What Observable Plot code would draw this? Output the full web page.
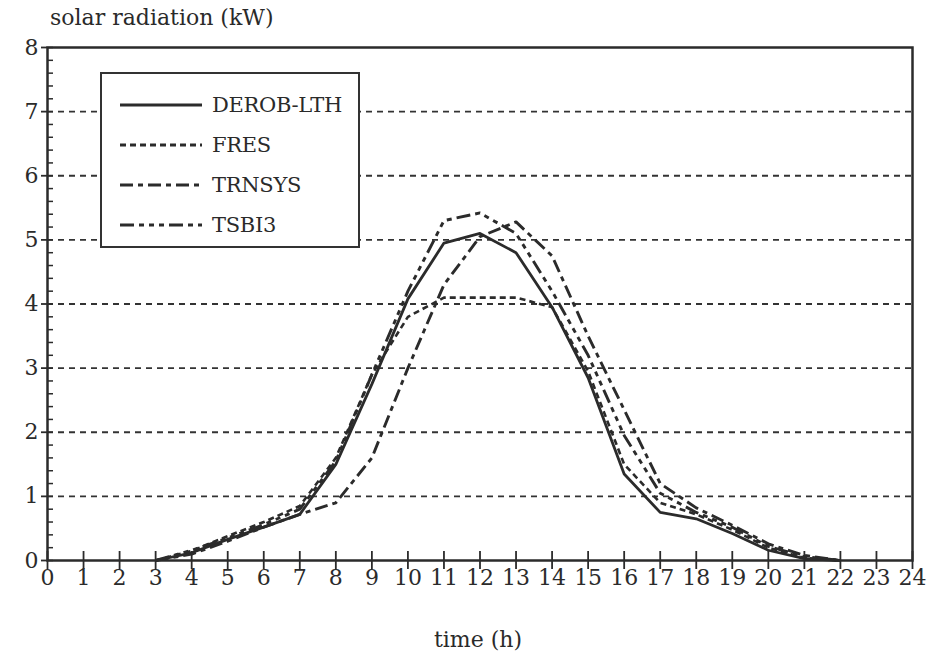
<!DOCTYPE html>
<html>
<head>
<meta charset="utf-8">
<script src="https://cdn.jsdelivr.net/npm/d3@7"></script>
<script src="https://cdn.jsdelivr.net/npm/@observablehq/plot@0.6"></script>
<style>
  body { margin: 0; background: #fff; font-family: "DejaVu Serif", serif; color: #2a2a2a; }
  #wrap { position: relative; width: 935px; height: 661px; overflow: hidden; }
  #title { position: absolute; left: 50px; top: 5px; font-size: 22px; white-space: nowrap; }
  #xtitle { position: absolute; left: 0; width: 956px; text-align: center; top: 627px; font-size: 22px; }
  #legend { position: absolute; left: 100px; top: 72px; width: 256px; height: 172px;
            border: 2px solid #333; background: #fff; }
  .row { position: absolute; left: 0; height: 30px; display: flex; align-items: center; }
  .row svg { margin-left: 18px; margin-right: 10px; }
  .row span { font-size: 21px; letter-spacing: -0.3px; }
</style>
</head>
<body>
<div id="wrap">
  <div id="chart"></div>
  <div id="title">solar radiation (kW)</div>
  <div id="xtitle">time (h)</div>
  <div id="legend"></div>
</div>
<script>
// ---- data ----
const hours   = [3, 4, 5, 6, 7, 8, 9, 10, 11, 12, 13, 14, 15, 16, 17, 18, 19, 20, 21, 22];
const derob   = [0, 0.12, 0.33, 0.52, 0.72, 1.50, 2.75, 4.08, 4.95, 5.10, 4.80, 3.95, 2.85, 1.35, 0.75, 0.65, 0.42, 0.16, 0.03, 0];
const fres    = [0, 0.15, 0.38, 0.60, 0.85, 1.60, 2.90, 3.80, 4.10, 4.10, 4.10, 3.95, 2.95, 1.50, 0.90, 0.72, 0.48, 0.20, 0.04, 0];
const trnsys  = [0, 0.10, 0.30, 0.52, 0.72, 0.90, 1.60, 3.00, 4.30, 5.05, 5.28, 4.75, 3.50, 2.35, 1.20, 0.82, 0.55, 0.26, 0.08, 0];
const tsbi3   = [0, 0.16, 0.35, 0.56, 0.80, 1.55, 2.90, 4.20, 5.30, 5.42, 5.10, 4.20, 3.20, 1.95, 1.05, 0.75, 0.52, 0.22, 0.06, 0];

const seriesNames = ["DEROB-LTH", "FRES", "TRNSYS", "TSBI3"];
const seriesValues = [derob, fres, trnsys, tsbi3];
const seriesDash = [null, "6,4", "13,5,5,5", "14,5,5,5,5,5,5,5"];
const seriesWidth = [2.8, 2.6, 2.9, 2.9];

const xTicks = d3.range(0, 25, 1);
const yTicks = d3.range(0, 9, 1);
const yMinor = d3.range(0, 8.001, 0.2);
const gridValues = [1, 2, 3, 4, 5, 6, 7];

const ink = "#2b2b2b";

const rows = [];
seriesNames.forEach((s, i) => hours.forEach((h, j) => rows.push({series: s, hour: h, value: seriesValues[i][j]})));

const lineMarks = seriesNames.map((s, i) =>
  Plot.line(rows.filter(d => d.series === s), {
    x: "hour", y: "value", stroke: ink, strokeWidth: seriesWidth[i],
    strokeDasharray: seriesDash[i] ?? undefined, strokeLinejoin: "round", strokeLinecap: "butt"
  })
);

const chart = Plot.plot({
  width: 935, height: 661,
  marginLeft: 47, marginRight: 23, marginTop: 47, marginBottom: 101,
  x: {domain: [0, 24]},
  y: {domain: [0, 8]},
  style: {fontFamily: "DejaVu Serif, serif", color: ink, background: "#fff", overflow: "visible"},
  marks: [
    Plot.ruleY(gridValues, {stroke: "#333", strokeWidth: 1.8, strokeDasharray: "6,5"}),
    Plot.axisY({ticks: yMinor, tickSize: 6, dx: 6, tickFormat: () => "", label: null, strokeWidth: 1.5}),
    Plot.axisY({ticks: yTicks, tickSize: 6, tickPadding: 3, label: null, fontSize: 22, strokeWidth: 1.8}),
    Plot.axisX({ticks: xTicks, tickSize: 9, tickFormat: () => "", label: null, strokeWidth: 1.8}),
    Plot.axisX({ticks: xTicks, tickSize: 9, dy: -9, tickFormat: () => "", label: null, strokeWidth: 1.8}),
    Plot.axisX({ticks: xTicks, tickSize: 0, tickPadding: 9, label: null, fontSize: 22}),
    ...lineMarks,
    Plot.frame({stroke: ink, strokeWidth: 2.5})
  ]
});
document.getElementById("chart").appendChild(chart);

// legend
const legend = document.getElementById("legend");
seriesNames.forEach((s, i) => {
  const row = document.createElement("div");
  row.className = "row";
  row.style.top = (16 + i * 40) + "px";
  const dash = seriesDash[i] ? `stroke-dasharray="${seriesDash[i]}"` : "";
  row.innerHTML = `<svg width="82" height="10"><line x1="0" x2="82" y1="5" y2="5" stroke="${ink}" stroke-width="${i === 0 ? 3 : 2.8}" ${dash}/></svg><span>${s}</span>`;
  legend.appendChild(row);
});
</script>
</body>
</html>
